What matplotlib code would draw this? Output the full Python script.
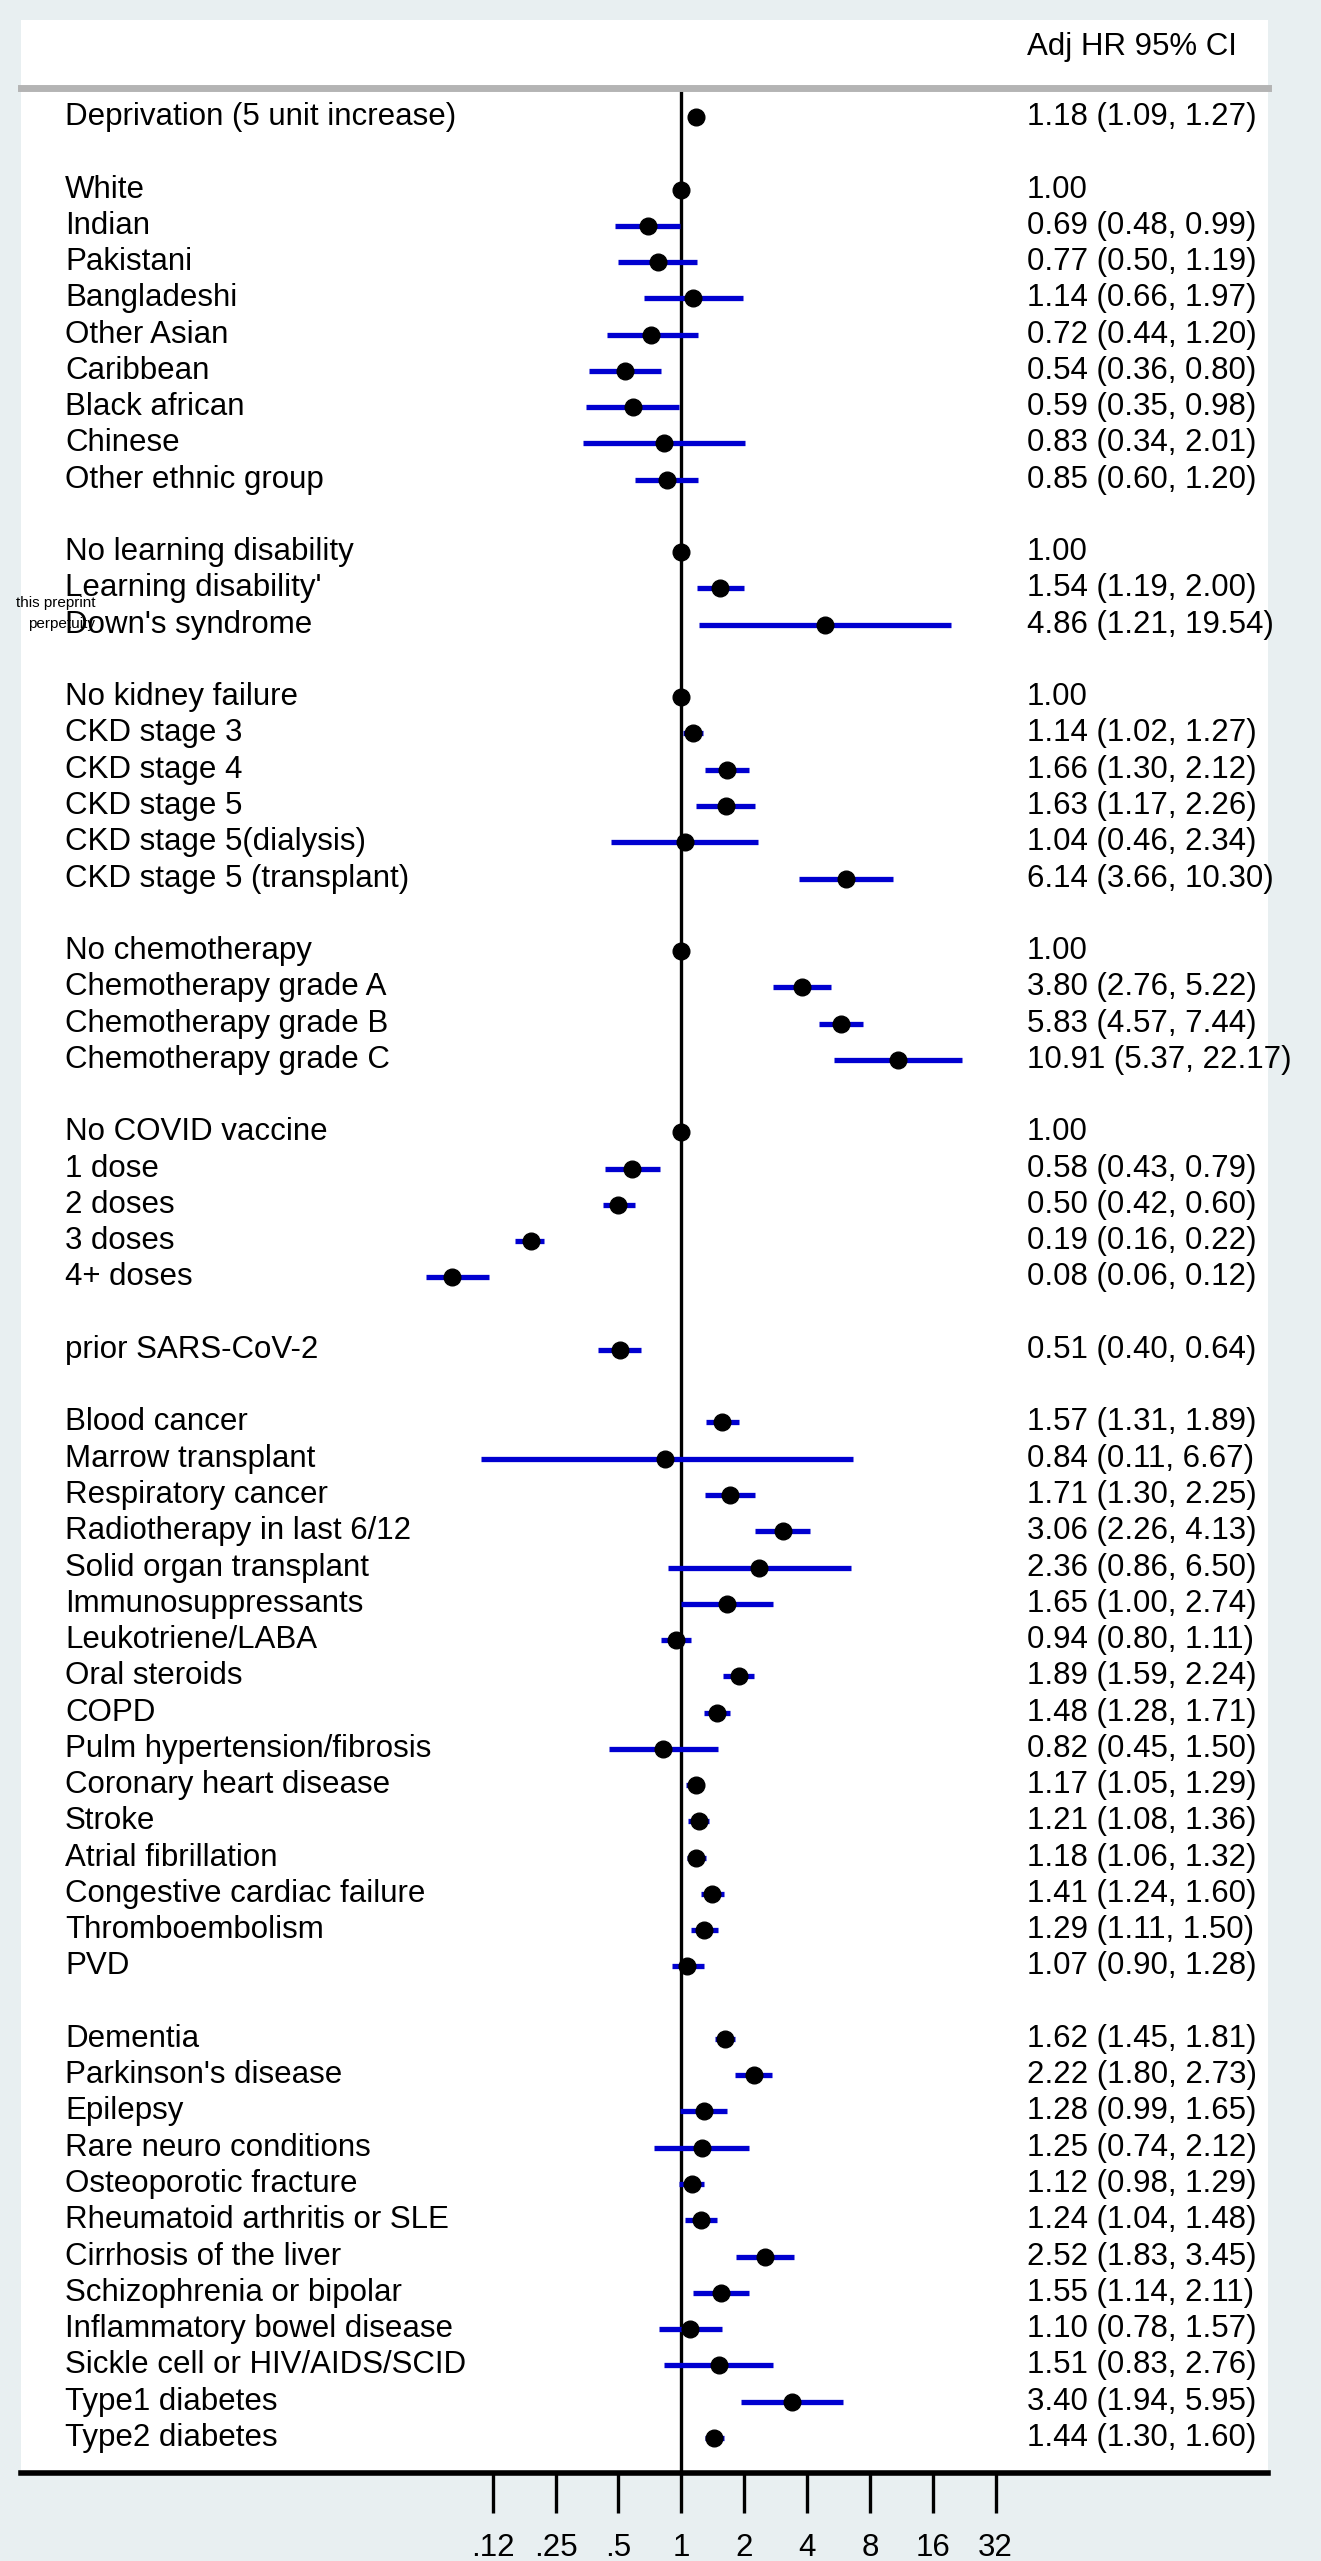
import matplotlib.pyplot as plt
from matplotlib.patches import Rectangle

plt.rcParams['font.family'] = ['Liberation Sans', 'DejaVu Sans']

# row labels ('' = blank spacer row)
labels = [
    "Deprivation (5 unit increase)", "",
    "White", "Indian", "Pakistani", "Bangladeshi", "Other Asian", "Caribbean",
    "Black african", "Chinese", "Other ethnic group", "",
    "No learning disability", "Learning disability'", "Down's syndrome", "",
    "No kidney failure", "CKD stage 3", "CKD stage 4", "CKD stage 5",
    "CKD stage 5(dialysis)", "CKD stage 5 (transplant)", "",
    "No chemotherapy", "Chemotherapy grade A", "Chemotherapy grade B", "Chemotherapy grade C", "",
    "No COVID vaccine", "1 dose", "2 doses", "3 doses", "4+ doses", "",
    "prior SARS-CoV-2", "",
    "Blood cancer", "Marrow transplant", "Respiratory cancer", "Radiotherapy in last 6/12",
    "Solid organ transplant", "Immunosuppressants", "Leukotriene/LABA", "Oral steroids",
    "COPD", "Pulm hypertension/fibrosis", "Coronary heart disease", "Stroke",
    "Atrial fibrillation", "Congestive cardiac failure", "Thromboembolism", "PVD", "",
    "Dementia", "Parkinson's disease", "Epilepsy", "Rare neuro conditions",
    "Osteoporotic fracture", "Rheumatoid arthritis or SLE", "Cirrhosis of the liver",
    "Schizophrenia or bipolar", "Inflammatory bowel disease", "Sickle cell or HIV/AIDS/SCID",
    "Type1 diabetes", "Type2 diabetes",
]
hr = [
    1.18, None,
    1.00, 0.69, 0.77, 1.14, 0.72, 0.54, 0.59, 0.83, 0.85, None,
    1.00, 1.54, 4.86, None,
    1.00, 1.14, 1.66, 1.63, 1.04, 6.14, None,
    1.00, 3.80, 5.83, 10.91, None,
    1.00, 0.58, 0.50, 0.19, 0.08, None,
    0.51, None,
    1.57, 0.84, 1.71, 3.06, 2.36, 1.65, 0.94, 1.89, 1.48, 0.82, 1.17, 1.21, 1.18, 1.41, 1.29, 1.07, None,
    1.62, 2.22, 1.28, 1.25, 1.12, 1.24, 2.52, 1.55, 1.10, 1.51, 3.40, 1.44,
]
lo = [
    1.09, None,
    None, 0.48, 0.50, 0.66, 0.44, 0.36, 0.35, 0.34, 0.60, None,
    None, 1.19, 1.21, None,
    None, 1.02, 1.30, 1.17, 0.46, 3.66, None,
    None, 2.76, 4.57, 5.37, None,
    None, 0.43, 0.42, 0.16, 0.06, None,
    0.40, None,
    1.31, 0.11, 1.30, 2.26, 0.86, 1.00, 0.80, 1.59, 1.28, 0.45, 1.05, 1.08, 1.06, 1.24, 1.11, 0.90, None,
    1.45, 1.80, 0.99, 0.74, 0.98, 1.04, 1.83, 1.14, 0.78, 0.83, 1.94, 1.30,
]
hi = [
    1.27, None,
    None, 0.99, 1.19, 1.97, 1.20, 0.80, 0.98, 2.01, 1.20, None,
    None, 2.00, 19.54, None,
    None, 1.27, 2.12, 2.26, 2.34, 10.30, None,
    None, 5.22, 7.44, 22.17, None,
    None, 0.79, 0.60, 0.22, 0.12, None,
    0.64, None,
    1.89, 6.67, 2.25, 4.13, 6.50, 2.74, 1.11, 2.24, 1.71, 1.50, 1.29, 1.36, 1.32, 1.60, 1.50, 1.28, None,
    1.81, 2.73, 1.65, 2.12, 1.29, 1.48, 3.45, 2.11, 1.57, 2.76, 5.95, 1.60,
]
xticks = [0.125, 0.25, 0.5, 1, 2, 4, 8, 16, 32]
xticklabels = [".12", ".25", ".5", "1", "2", "4", "8", "16", "32"]

W, H = 1321, 2561
fig = plt.figure(figsize=(W / 100, H / 100), dpi=100, facecolor='#e8eff1')
fig.patches.append(Rectangle((21 / W, 1 - 2473 / H), (1268 - 21) / W, (2473 - 20) / H,
                             transform=fig.transFigure, facecolor='white', edgecolor='none', zorder=-5))

ax = fig.add_axes([21 / W, 1 - 2473 / H, (1268 - 21) / W, (2473 - 88) / H])
ax.set_zorder(2)
ax.patch.set_alpha(0)
ax.set_xscale('log', base=2)
ax.set_xlim(2 ** -10.5, 2 ** 9.33)
ax.set_ylim(64.97, -0.8)

ax.axvline(1, color='black', lw=2.4, zorder=2)
fs = 22.5
for i, (lab, h, l, u) in enumerate(zip(labels, hr, lo, hi)):
    if not lab:
        continue
    ax.text((65 - 21) / 1247, i, lab, transform=ax.get_yaxis_transform(), va='center', ha='left', fontsize=fs)
    if l is not None:
        ax.plot([l, u], [i, i], color='#0000d0', lw=3.8, solid_capstyle='butt', zorder=3)
        txt = f"{h:.2f} ({l:.2f}, {u:.2f})"
    else:
        txt = f"{h:.2f}"
    ax.plot(h, i, 'o', color='black', ms=12, zorder=4)
    ax.text((1027 - 21) / 1247, i, txt, transform=ax.get_yaxis_transform(), va='center', ha='left', fontsize=fs)

for s in ['left', 'right']:
    ax.spines[s].set_visible(False)
ax.spines['top'].set_color('#b4b4b4')
ax.spines['top'].set_linewidth(5)
ax.spines['bottom'].set_linewidth(4)
ax.set_yticks([])
ax.set_xticks(xticks)
ax.set_xticklabels(xticklabels, fontsize=fs)
ax.minorticks_off()
ax.tick_params(axis='x', direction='out', length=29, width=2.4, pad=14)

fig.text(1027 / W, 1 - 47 / H, "Adj HR 95% CI", fontsize=fs, va='center', ha='left')
fig.text(95 / W, 1 - 603 / H, "this preprint", fontsize=11, ha='right', va='center')
fig.text(95 / W, 1 - 624 / H, "perpetuity", fontsize=11, ha='right', va='center')

fig.savefig("out.png", dpi=100, facecolor=fig.get_facecolor())
